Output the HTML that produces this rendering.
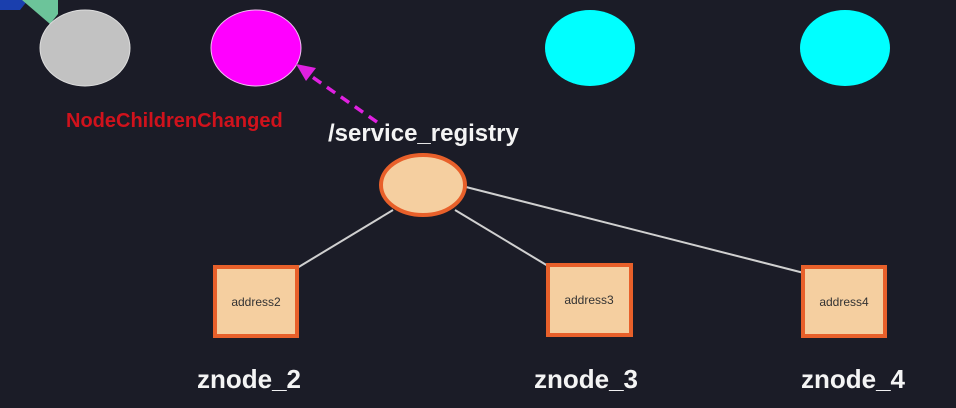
<!DOCTYPE html>
<html><head><style>
body{margin:0;background:#1b1c27;}
svg{display:block;}
text{font-family:"Liberation Sans",sans-serif;}
</style></head><body>
<svg width="956" height="408" viewBox="0 0 956 408">
<rect width="956" height="408" fill="#1b1c27"/>
<polygon points="0,0 28,0 20,10 0,10" fill="#1a3fae"/>
<polygon points="22,0 58,0 58,14 50,24" fill="#6cc49a"/>
<ellipse cx="85" cy="48" rx="45" ry="38" fill="#c2c2c2" stroke="#ddd" stroke-width="1"/>
<ellipse cx="256" cy="48" rx="45" ry="38" fill="#ff00ff" stroke="#f0c0f0" stroke-width="1"/>
<ellipse cx="590" cy="48" rx="45" ry="38" fill="#00ffff"/>
<ellipse cx="845" cy="48" rx="45" ry="38" fill="#00ffff"/>
<line x1="377" y1="122" x2="308" y2="74" stroke="#e020e0" stroke-width="3.5" stroke-dasharray="10,7"/>
<polygon points="296,64 316,68 306,81" fill="#e020e0"/>
<text x="66" y="127" font-size="20" font-weight="bold" fill="#d0121c">NodeChildrenChanged</text>
<text x="328" y="141" font-size="24" font-weight="bold" fill="#f4f4f4">/service_registry</text>
<g stroke="#d0d0d0" stroke-width="2">
<line x1="393" y1="210" x2="297" y2="268"/>
<line x1="455" y1="210" x2="548" y2="266"/>
<line x1="466" y1="187" x2="804" y2="273"/>
</g>
<ellipse cx="423" cy="185" rx="42" ry="30" fill="#f5cfa0" stroke="#e8602a" stroke-width="4"/>
<g fill="#f5cfa0" stroke="#e8602a" stroke-width="4">
<rect x="215" y="267" width="82" height="69"/>
<rect x="548" y="265" width="83" height="70"/>
<rect x="803" y="267" width="82" height="69"/>
</g>
<g font-size="12" fill="#333" text-anchor="middle">
<text x="256" y="306">address2</text>
<text x="589" y="304">address3</text>
<text x="844" y="306">address4</text>
</g>
<g font-size="26" font-weight="bold" fill="#f4f4f4" text-anchor="middle">
<text x="249" y="388">znode_2</text>
<text x="586" y="388">znode_3</text>
<text x="853" y="388">znode_4</text>
</g>
</svg>
</body></html>
